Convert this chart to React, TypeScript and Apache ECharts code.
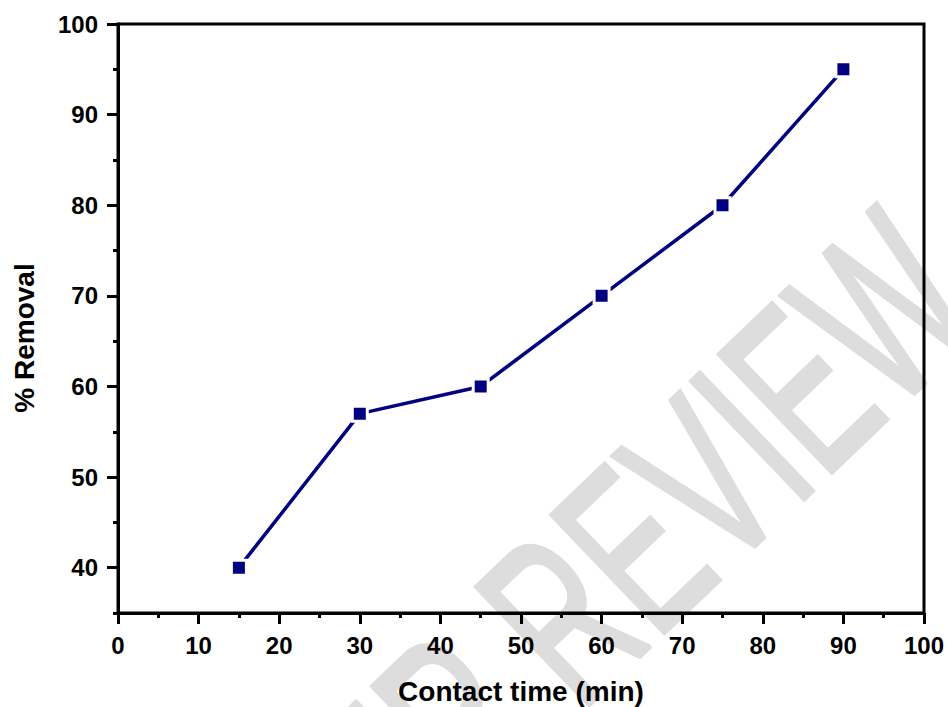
import React, { useEffect, useRef } from 'react';
import * as echarts from 'echarts';

const contactTime = [15, 30, 45, 60, 75, 90];
const removal = [40, 57, 60, 70, 80, 95];
const xAxisTitle = 'Contact time (min)';
const yAxisTitle = '% Removal';
const watermarkText = 'UNDER PEER REVIEW';

export default function App() {
  const ref = useRef<HTMLDivElement>(null);
  useEffect(() => {
    const chart = echarts.init(ref.current as HTMLDivElement, null, { renderer: 'svg' });
    const font = "'Liberation Sans', Arial, sans-serif";
    const axisBlack = { color: '#000', width: 3 };
    const labelStyle = { fontSize: 24, fontWeight: 'bold', color: '#000', fontFamily: font };
    chart.setOption({
      animation: false,
      backgroundColor: '#fff',
      grid: {
        left: 118, right: 24, top: 24, bottom: 94,
        show: true, borderColor: '#000', borderWidth: 3, backgroundColor: 'transparent',
        outerBoundsMode: 'none',
      },
      xAxis: {
        type: 'value', min: 0, max: 100, interval: 10,
        name: xAxisTitle, nameLocation: 'middle', nameGap: 64,
        nameTextStyle: { fontSize: 28, lineHeight: 28, fontWeight: 'bold', color: '#000', fontFamily: font },
        axisLine: { show: true, onZero: false, lineStyle: axisBlack },
        axisTick: { show: true, inside: false, length: 11, lineStyle: axisBlack },
        minorTick: { show: true, splitNumber: 2, length: 5, lineStyle: axisBlack },
        axisLabel: { margin: 20, ...labelStyle },
        splitLine: { show: false },
        minorSplitLine: { show: false },
      },
      yAxis: [
        {
          type: 'value', min: 35, max: 100, position: 'left',
          axisLine: { show: true, onZero: false, lineStyle: axisBlack },
          axisTick: { show: true, inside: false, length: 11, lineStyle: axisBlack },
          axisLabel: { margin: 20, showMinLabel: false, ...labelStyle },
          splitLine: { show: false },
        },
        {
          type: 'value', min: 35, max: 100, interval: 5, position: 'left',
          axisLine: { show: false, onZero: false },
          axisTick: { show: true, inside: false, length: 5, lineStyle: axisBlack },
          axisLabel: { show: false },
          splitLine: { show: false },
        },
      ],
      graphic: [
        {
          type: 'text', x: 373, y: 798, rotation: 0.764, scaleX: 0.72, scaleY: 1.185,
          z: -10, silent: true,
          style: {
            text: watermarkText, fontSize: 200, fontFamily: font, fill: '#dddddd',
            stroke: '#dddddd', lineWidth: 4,
            align: 'center', verticalAlign: 'middle',
          },
        },
        {
          type: 'text', x: 24, y: 338, rotation: Math.PI / 2,
          style: {
            text: yAxisTitle, fontSize: 28, fontWeight: 'bold', fontFamily: font, fill: '#000',
            align: 'center', verticalAlign: 'middle',
          },
        },
      ],
      series: [
        {
          type: 'line',
          data: contactTime.map((x, i) => [x, removal[i]]),
          yAxisIndex: 0,
          symbol: 'rect',
          symbolSize: 15,
          lineStyle: { color: '#000080', width: 3.5 },
          itemStyle: { color: '#000080', borderColor: '#fff', borderWidth: 3 },
          z: 5,
        },
      ],
    });
    return () => chart.dispose();
  }, []);
  return (
    <div
      ref={ref}
      style={{ position: 'fixed', left: 0, top: 0, width: 948, height: 707, background: '#fff' }}
    />
  );
}
